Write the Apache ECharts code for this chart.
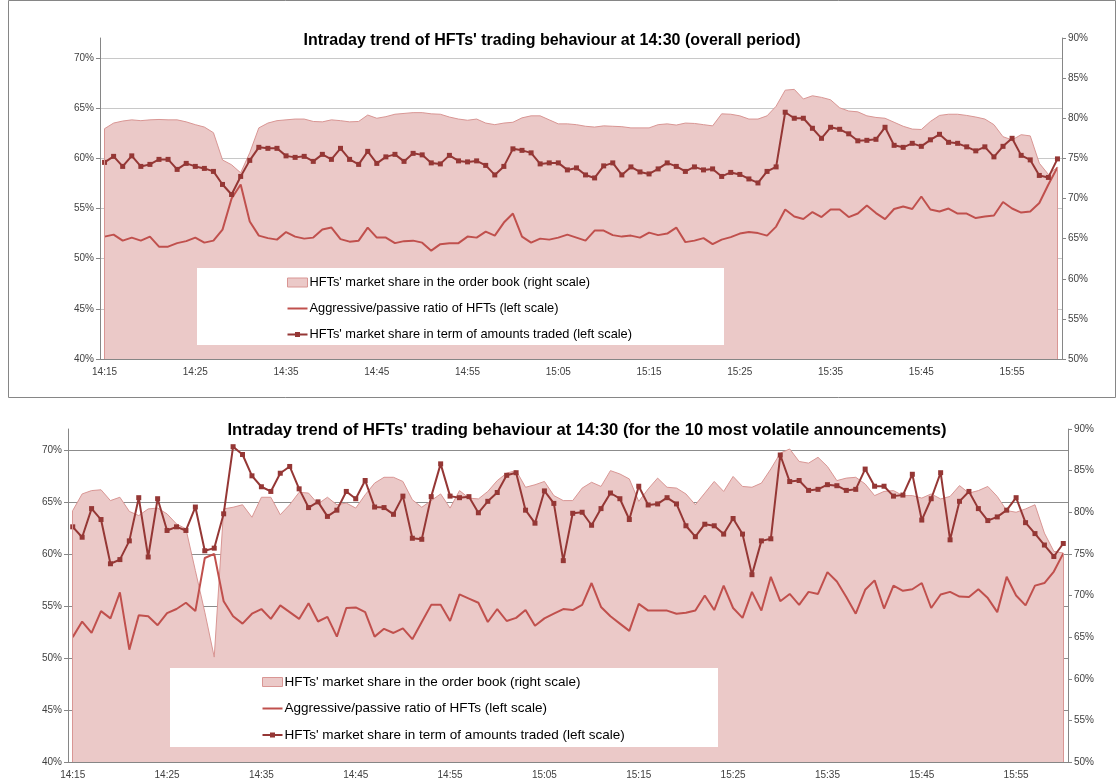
<!DOCTYPE html>
<html>
<head>
<meta charset="utf-8">
<script src="https://cdn.jsdelivr.net/npm/echarts@6/dist/echarts.min.js"></script>
<style>
html, body { margin: 0; padding: 0; background: #fff; }
#main { width: 1117px; height: 784px; }
</style>
</head>
<body>
<div id="main"></div>
<script>
// one label per minute, 14:15 -> 16:00
var times = [];
for (var m = 15; m <= 120; m++) {
    var h = 14 + Math.floor(m / 60), mm = m % 60;
    times.push(h + ':' + (mm < 10 ? '0' : '') + mm);
}

var nameBook = "HFTs' market share in the order book (right scale)";
var nameRatio = "Aggressive/passive ratio of HFTs (left scale)";
var nameAmount = "HFTs' market share in term of amounts traded (left scale)";

// ---- overall period (top) ----
var topBook = [78.7, 79.4, 79.65, 79.8, 79.7, 79.8, 79.85, 79.8, 79.8, 79.55, 79.2, 78.9, 78.2, 74.8, 74.2, 73.2, 75.7, 78.8, 79.4, 79.7,
    79.8, 79.9, 79.9, 79.6, 79.55, 79.8, 79.7, 79.55, 79.6, 80.4, 80.0, 80.2, 80.5, 80.6, 80.7, 80.7, 80.55, 80.5, 80.15, 79.9,
    79.75, 79.9, 79.4, 79.2, 79.4, 79.5, 80.05, 80.3, 80.3, 79.8, 79.3, 79.3, 79.2, 79.0, 78.9, 79.05, 79.0, 78.95, 78.8, 78.8,
    78.8, 79.2, 79.3, 79.15, 79.4, 79.35, 79.2, 79.05, 80.55, 80.5, 80.3, 79.9, 79.9, 80.3, 81.5, 83.5, 83.6, 82.4, 82.8, 82.6,
    82.3, 81.3, 80.9, 80.8, 80.3, 80.1, 80.0, 79.5, 79.0, 78.65, 78.6, 79.6, 80.35, 80.5, 80.5, 80.35, 80.15, 79.9, 79.2, 77.7,
    77.3, 77.95, 77.8, 74.4, 73.0, 73.9];
var topRatio = [52.2, 52.4, 51.8, 52.1, 51.8, 52.2, 51.2, 51.2, 51.55, 51.75, 52.1, 51.6, 51.8, 52.9, 56.0, 57.4, 53.7, 52.3, 52.05, 51.9,
    52.65, 52.2, 52.0, 52.1, 52.9, 53.1, 51.95, 51.7, 51.8, 53.1, 52.1, 52.1, 51.55, 51.75, 51.8, 51.6, 50.8, 51.45, 51.55, 51.55,
    52.2, 52.1, 52.7, 52.3, 53.6, 54.5, 52.2, 51.6, 52.0, 51.9, 52.1, 52.4, 52.1, 51.8, 52.8, 52.8, 52.35, 52.2, 52.3, 52.1,
    52.6, 52.35, 52.5, 53.1, 51.65, 51.8, 52.05, 51.45, 51.9, 52.15, 52.5, 52.65, 52.55, 52.3, 53.2, 54.9, 54.2, 53.95, 54.65, 54.15,
    54.9, 54.9, 54.15, 54.5, 55.3, 54.55, 53.95, 54.95, 55.2, 54.95, 56.2, 54.9, 54.7, 55.0, 54.5, 54.5, 54.05, 54.2, 54.3, 55.65,
    55.0, 54.6, 54.7, 55.55, 57.4, 59.1];
var topAmount = [59.6, 60.2, 59.2, 60.25, 59.2, 59.4, 59.9, 59.9, 58.9, 59.5, 59.2, 59.0, 58.7, 57.4, 56.4, 58.2, 59.8, 61.1, 61.0, 61.0,
    60.25, 60.1, 60.2, 59.7, 60.4, 59.9, 61.0, 59.9, 59.4, 60.7, 59.5, 60.15, 60.4, 59.7, 60.5, 60.35, 59.55, 59.45, 60.3, 59.75,
    59.65, 59.75, 59.3, 58.35, 59.2, 60.95, 60.8, 60.55, 59.45, 59.55, 59.55, 58.85, 59.05, 58.35, 58.05, 59.25, 59.55, 58.35, 59.15, 58.65,
    58.45, 58.95, 59.55, 59.2, 58.7, 59.15, 58.85, 58.95, 58.2, 58.6, 58.4, 57.95, 57.55, 58.7, 59.15, 64.6, 64.0, 64.0, 63.0, 62.0,
    63.1, 62.9, 62.45, 61.75, 61.8, 61.9, 63.1, 61.3, 61.1, 61.5, 61.2, 61.85, 62.4, 61.6, 61.5, 61.15, 60.75, 61.15, 60.15, 61.2,
    62.0, 60.3, 59.85, 58.3, 58.1, 59.95];

// ---- 10 most volatile announcements (bottom) ----
var botBook = [80.2, 82.2, 82.6, 82.7, 81.4, 81.8, 80.1, 79.6, 80.4, 80.5, 79.8, 78.6, 78.0, 73.0, 68.0, 62.6, 80.4, 80.6, 80.9, 79.4,
    81.8, 81.8, 79.7, 80.9, 82.4, 82.3, 81.0, 81.8, 80.9, 81.1, 80.5, 82.1, 83.5, 84.2, 84.2, 83.7, 81.5, 80.6, 81.4, 82.2,
    80.5, 82.6, 81.7, 81.6, 82.5, 83.8, 84.7, 85.0, 83.0, 83.3, 83.7, 82.0, 81.4, 81.4, 82.9, 83.6, 83.1, 85.0, 84.6, 84.0,
    81.3, 82.8, 84.1, 83.0, 82.9, 82.2, 80.9, 82.3, 83.7, 82.5, 84.3, 83.1, 83.0, 83.5, 85.2, 87.1, 87.6, 86.1, 85.9, 86.6,
    85.5, 83.8, 84.1, 84.2, 83.4, 82.0, 82.5, 82.6, 82.0, 82.0, 81.7, 82.2, 81.6, 81.9, 83.2, 82.3, 82.6, 83.1, 81.9, 80.2,
    80.0, 80.4, 80.9, 77.5, 75.3, 75.1];
var botRatio = [52.0, 53.5, 52.4, 54.5, 53.8, 56.3, 50.8, 54.1, 54.0, 53.15, 54.3, 54.7, 55.3, 54.5, 59.6, 60.0, 55.45, 54.0, 53.3, 54.25,
    54.7, 53.75, 55.05, 54.4, 53.75, 55.25, 53.5, 53.95, 52.05, 54.8, 54.85, 54.4, 52.05, 52.8, 52.4, 52.85, 51.8, 53.45, 55.1, 55.1,
    53.55, 56.1, 55.7, 55.3, 53.45, 54.7, 53.55, 53.85, 54.6, 53.1, 53.8, 54.25, 54.7, 54.6, 55.1, 57.2, 54.9, 54.0, 53.3, 52.6,
    55.2, 54.55, 54.55, 54.55, 54.25, 54.35, 54.55, 56.0, 54.6, 56.95, 54.8, 53.85, 56.35, 54.55, 57.8, 55.45, 56.15, 55.1, 56.35, 56.15,
    58.25, 57.35, 55.85, 54.25, 56.55, 57.45, 54.75, 56.95, 56.45, 56.6, 57.2, 54.8, 56.1, 56.35, 55.9, 55.85, 56.6, 55.75, 54.4, 57.8,
    56.0, 55.05, 56.95, 57.2, 58.3, 60.05];
var botAmount = [62.6, 61.6, 64.35, 63.3, 59.05, 59.45, 61.25, 65.4, 59.7, 65.3, 62.25, 62.6, 62.25, 64.5, 60.3, 60.55, 63.85, 70.3, 69.55, 67.5,
    66.45, 66.0, 67.75, 68.4, 66.25, 64.45, 65.0, 63.6, 64.2, 66.0, 65.3, 67.05, 64.5, 64.45, 63.8, 65.55, 61.5, 61.4, 65.5, 68.65,
    65.55, 65.4, 65.5, 63.95, 65.05, 65.9, 67.55, 67.8, 64.2, 62.95, 66.05, 64.85, 59.35, 63.9, 64.0, 62.75, 64.35, 65.85, 65.3, 63.3,
    66.5, 64.7, 64.8, 65.4, 64.8, 62.7, 61.65, 62.85, 62.7, 61.9, 63.4, 61.9, 58.0, 61.25, 61.45, 69.5, 66.95, 67.05, 66.1, 66.2,
    66.65, 66.55, 66.1, 66.2, 68.15, 66.5, 66.5, 65.55, 65.65, 67.65, 63.25, 65.3, 67.8, 61.35, 65.05, 66.0, 64.35, 63.2, 63.55, 64.2,
    65.4, 63.0, 61.95, 60.85, 59.75, 61.0];

var leftTicks = {min: 40, max: 72, interval: 5};
var rightTicks = {min: 50, max: 90, interval: 5};

var font = 'Liberation Sans';
var cBookFill = '#ebc9c8', cBookLine = '#d99694', cRatio = '#c0504d', cAmount = '#953735';

// legend glyphs: plain line, and line with a small square
var iconLine = 'path://M0,6L20,6L20,8L0,8Z';
var iconLineRect = 'path://M0,6L7.5,6L7.5,4.5L12.5,4.5L12.5,6L20,6L20,8L12.5,8L12.5,9.5L7.5,9.5L7.5,8L0,8Z';

function xAx(grid) {
    return {
        type: 'category', gridIndex: grid, data: times, boundaryGap: true,
        axisLine: {lineStyle: {color: '#868686', width: 1}},
        axisTick: {show: false},
        axisLabel: {interval: 9, fontSize: 10, color: '#404040', fontFamily: font, margin: 8}
    };
}
function yAx(grid, side, t, gridColor) {
    return {
        type: 'value', gridIndex: grid, position: side,
        min: t.min, max: t.max, interval: t.interval,
        axisLine: {show: true, lineStyle: {color: '#868686'}},
        axisTick: {show: true, length: 4, lineStyle: {color: '#868686'}},
        axisLabel: {formatter: '{value}%', fontSize: 10, color: '#404040', fontFamily: font, showMaxLabel: side === 'right', margin: 6},
        splitLine: side === 'left' ? {show: true, showMaxLine: false, showMinLine: false, lineStyle: {color: gridColor}} : {show: false}
    };
}
function series(grid, book, ratio, amount) {
    var last = times.length - 1;
    return [
        {name: nameBook, type: 'line', xAxisIndex: grid, yAxisIndex: grid * 2 + 1, data: book,
            symbol: 'none', z: 1, lineStyle: {color: cBookLine, width: 1}, itemStyle: {color: cBookFill},
            areaStyle: {color: cBookFill, opacity: 1, origin: 'start'},
            markLine: {
                silent: true, symbol: 'none', label: {show: false},
                lineStyle: {color: cBookLine, width: 1, type: 'solid'},
                data: [
                    [{xAxis: times[0], yAxis: rightTicks.min}, {xAxis: times[0], yAxis: book[0]}],
                    [{xAxis: times[last], yAxis: rightTicks.min}, {xAxis: times[last], yAxis: book[last]}]
                ]
            }},
        {name: nameRatio, type: 'line', xAxisIndex: grid, yAxisIndex: grid * 2, data: ratio,
            symbol: 'none', z: 3, lineStyle: {color: cRatio, width: 2}, itemStyle: {color: cRatio}},
        {name: nameAmount, type: 'line', xAxisIndex: grid, yAxisIndex: grid * 2, data: amount,
            symbol: 'rect', symbolSize: 5, showSymbol: true, z: 4,
            lineStyle: {color: cAmount, width: 2}, itemStyle: {color: cAmount}}
    ];
}
function legend(x, y, gap, size) {
    return {
        orient: 'vertical', left: x, top: y, itemGap: gap, itemWidth: 20, itemHeight: 9, z: 20,
        padding: 0, selectedMode: false,
        textStyle: {fontSize: size, color: '#000', fontFamily: font, padding: [0, 0, 0, -3]},
        data: [
            {name: nameBook, icon: 'rect', itemStyle: {color: cBookFill, borderColor: cBookLine, borderWidth: 1}},
            {name: nameRatio, icon: iconLine, itemStyle: {color: cRatio}},
            {name: nameAmount, icon: iconLineRect, itemStyle: {color: cAmount}}
        ]
    };
}

var myChart = echarts.init(document.getElementById('main'), null, {renderer: 'canvas'});
var option = {
    animation: false,
    backgroundColor: '#fff',
    title: [
        {text: "Intraday trend of HFTs' trading behaviour at 14:30 (overall period)", left: 547, top: 28, textAlign: 'center',
            textStyle: {fontSize: 16, fontWeight: 'bold', color: '#000', fontFamily: font}},
        {text: "Intraday trend of HFTs' trading behaviour at 14:30 (for the 10 most volatile announcements)", left: 582, top: 417, textAlign: 'center',
            textStyle: {fontSize: 16.6, fontWeight: 'bold', color: '#000', fontFamily: font}}
    ],
    grid: [
        {left: 100, right: 55, top: 38, height: 321},
        {left: 68, right: 49, top: 429, height: 333}
    ],
    xAxis: [xAx(0), xAx(1)],
    yAxis: [
        yAx(0, 'left', leftTicks, '#c8c8c8'), yAx(0, 'right', rightTicks),
        yAx(1, 'left', leftTicks, '#8c8c8c'), yAx(1, 'right', rightTicks)
    ],
    legend: [legend(287, 276, 13, 12.8), legend(262, 675, 12.5, 13.5)],
    graphic: [
        {type: 'rect', z: 15, shape: {x: 197, y: 268, width: 527, height: 77}, style: {fill: '#fff'}},
        {type: 'rect', z: 15, shape: {x: 170, y: 668, width: 548, height: 79}, style: {fill: '#fff'}},
        {type: 'rect', z: 15, shape: {x: 8.5, y: 0.5, width: 1107, height: 397}, style: {fill: 'none', stroke: '#868686', lineWidth: 1}}
    ],
    series: series(0, topBook, topRatio, topAmount).concat(series(1, botBook, botRatio, botAmount))
};
myChart.setOption(option);
window.addEventListener('resize', function () {
    myChart.resize();
});
</script>
</body>
</html>
